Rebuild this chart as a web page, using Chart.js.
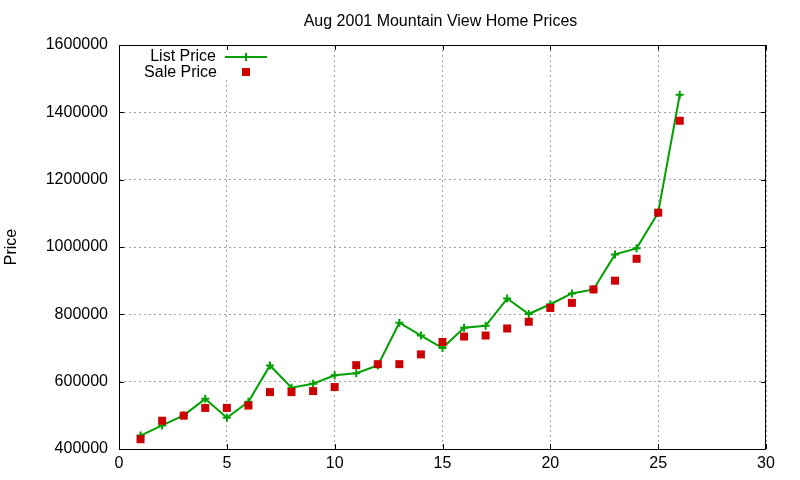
<!DOCTYPE html>
<html>
<head>
<meta charset="utf-8">
<title>Aug 2001 Mountain View Home Prices</title>
<script src="https://cdn.jsdelivr.net/npm/chart.js@4.4.1/dist/chart.umd.min.js"></script>
<style>
  html, body { margin: 0; padding: 0; background: #fff; }
  canvas { display: block; }
</style>
</head>
<body>
<canvas id="chart" width="800" height="480" style="width:800px;height:480px"></canvas>
<script>
const chartTitle = 'Aug 2001 Mountain View Home Prices'
const seriesNames = ['List Price', 'Sale Price']

// house number on the x axis
const houses = [1, 2, 3, 4, 5, 6, 7, 8, 9, 10, 11, 12, 13, 14, 15, 16, 17, 18, 19, 20, 21, 22, 23, 24, 25, 26]
const listPrices = [440000, 470000, 500000, 549000, 493000, 540000, 648000, 582000, 594000, 619000, 625000, 648000, 775000,
  737000, 700000, 760000, 766000, 847000, 801000, 830000, 862000, 874000, 978000, 996000, 1102000, 1452000]
const salePrices = [429000, 484000, 499000, 522000, 522000, 529000, 569000, 569000, 572000, 584000, 649000, 652000, 652000,
  681000, 718000, 734000, 737000, 758000, 778000, 819000, 834000, 874000, 900000, 965000, 1102000, 1375000]

const xTicks = [0, 5, 10, 15, 20, 25, 30]
const yTicks = [400000, 600000, 800000, 1000000, 1200000, 1400000, 1600000]

const GREEN = '#00a000'
const RED = '#cc0000'
const GRID = '#a0a0a0'
const FONT = "'Liberation Sans', Arial, sans-serif"
const TICK = 5

Chart.defaults.font.family = FONT
Chart.defaults.font.size = 16
Chart.defaults.color = '#000'

// gnuplot style frame, inward ticks, title and legend
const gnuplotLook = {
  id: 'gnuplotLook',
  beforeDatasetsDraw(chart) {
    const { ctx, chartArea: a, scales } = chart
    ctx.save()
    // the key area hides the grid behind it
    ctx.fillStyle = '#fff'
    ctx.fillRect(135, 46, 136, 33)

    ctx.strokeStyle = '#000'
    ctx.lineWidth = 1
    ctx.beginPath()
    scales.x.ticks.forEach(t => {
      const px = Math.round(scales.x.getPixelForValue(t.value)) + 0.5
      ctx.moveTo(px, a.bottom); ctx.lineTo(px, a.bottom - TICK)
      ctx.moveTo(px, a.top); ctx.lineTo(px, a.top + TICK)
    })
    scales.y.ticks.forEach(t => {
      const py = Math.round(scales.y.getPixelForValue(t.value)) + 0.5
      ctx.moveTo(a.left, py); ctx.lineTo(a.left + TICK, py)
      ctx.moveTo(a.right, py); ctx.lineTo(a.right - TICK, py)
    })
    ctx.stroke()
    ctx.strokeRect(Math.round(a.left) + 0.5, Math.round(a.top) + 0.5,
      Math.round(a.right - a.left) - 1, Math.round(a.bottom - a.top))
    ctx.restore()
  },
  afterDraw(chart) {
    const { ctx, chartArea: a } = chart
    ctx.save()
    ctx.fillStyle = '#000'
    ctx.font = '16px ' + FONT
    ctx.textAlign = 'center'
    ctx.textBaseline = 'alphabetic'
    ctx.fillText(chartTitle, (a.left + a.right) / 2 - 2, 26)

    // legend
    ctx.textAlign = 'right'
    ctx.fillText(seriesNames[0], 216, 61)
    ctx.fillText(seriesNames[1], 217, 77)
    ctx.strokeStyle = GREEN
    ctx.lineWidth = 2
    ctx.beginPath()
    ctx.moveTo(225, 57); ctx.lineTo(267, 57)
    ctx.moveTo(246, 53); ctx.lineTo(246, 61)
    ctx.stroke()
    ctx.fillStyle = RED
    ctx.fillRect(242, 68, 8, 8)
    ctx.restore()
  }
}

new Chart(document.getElementById('chart'), {
  type: 'line',
  data: {
    datasets: [
      {
        label: seriesNames[0],
        data: houses.map((h, i) => ({ x: h, y: listPrices[i] })),
        borderColor: GREEN,
        backgroundColor: GREEN,
        borderWidth: 2,
        pointStyle: 'cross',
        pointRadius: 4,
        pointBorderWidth: 2,
        pointBorderColor: GREEN,
        tension: 0,
        order: 1
      },
      {
        label: seriesNames[1],
        data: houses.map((h, i) => ({ x: h, y: salePrices[i] })),
        showLine: false,
        pointStyle: 'rect',
        pointRadius: 5.66,
        pointBorderWidth: 0,
        pointBackgroundColor: RED,
        pointBorderColor: RED,
        order: 0
      }
    ]
  },
  options: {
    responsive: false,
    animation: false,
    devicePixelRatio: 1,
    layout: { padding: { top: 45, right: 34, bottom: 0, left: 0 } },
    plugins: {
      legend: { display: false },
      title: { display: false },
      tooltip: { enabled: false }
    },
    scales: {
      x: {
        type: 'linear',
        min: 0,
        max: 30,
        afterBuildTicks: s => { s.ticks = xTicks.map(v => ({ value: v })) },
        afterFit: s => { s.height = 31 },
        border: { display: false, dash: [2, 3] },
        grid: { color: GRID, lineWidth: 1, drawTicks: false, borderDash: [2, 3] },
        ticks: { padding: 5, font: { size: 16 }, callback: v => String(v) }
      },
      y: {
        type: 'linear',
        min: 400000,
        max: 1600000,
        afterBuildTicks: s => { s.ticks = yTicks.map(v => ({ value: v })) },
        afterFit: s => { s.width = 119 },
        border: { display: false, dash: [2, 3] },
        grid: { color: GRID, lineWidth: 1, drawTicks: false, borderDash: [2, 3] },
        ticks: { padding: 11, font: { size: 16 }, callback: v => String(v) },
        title: {
          display: true,
          text: 'Price',
          font: { size: 16 },
          padding: { top: 1.5, bottom: 0 }
        }
      }
    }
  },
  plugins: [gnuplotLook]
})
</script>
</body>
</html>
